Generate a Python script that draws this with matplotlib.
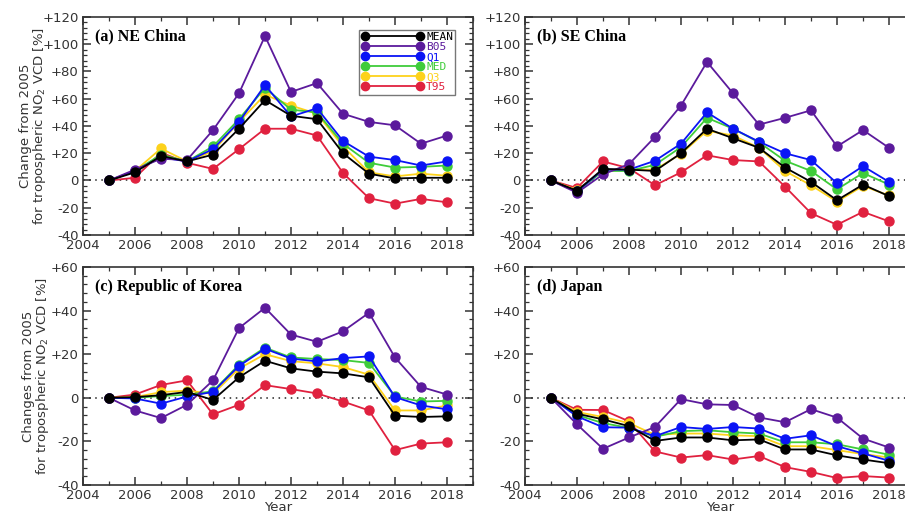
import matplotlib
matplotlib.use('Agg')
import matplotlib.pyplot as plt
from matplotlib.ticker import MultipleLocator, AutoMinorLocator, FuncFormatter

years = list(range(2005, 2019))
series_names = ['MEAN', 'B05', 'Q1', 'MED', 'Q3', 'T95']
series_colors = ['#000000', '#5b1a9c', '#0a14f5', '#3fcc3a', '#fdd21b', '#e0213f']

# (a) NE China
ne_mean = [0, 6, 18, 14, 19, 38, 59, 47.5, 45, 20, 5, 1.5, 2, 2]
ne_b05 = [0, 8, 16, 15, 37, 64, 106, 65, 71.5, 49, 43, 40.5, 27, 33]
ne_q1 = [0, 7, 17, 14, 23, 43, 70, 47, 53, 29, 17.5, 15, 11, 14]
ne_med = [0, 7, 19, 14, 25, 45, 68, 52, 50, 27, 13, 9.5, 10, 11]
ne_q3 = [0, 7, 23.5, 14, 21.5, 43, 63, 55, 49, 25, 6, 3, 5, 3.5]
ne_t95 = [0, 2, 20.5, 13, 8.5, 23, 38, 38, 33, 5.5, -13, -17, -13.5, -16]

# (b) SE China
se_mean = [0, -7.5, 8.5, 8, 7, 20, 38, 31, 24, 9.5, -1, -14.5, -3, -11.5]
se_b05 = [0, -9, 4.5, 12, 32, 55, 87, 64, 41, 46, 51.5, 25, 37, 24]
se_q1 = [0, -8, 8, 8, 14.5, 27, 50, 38, 28.5, 20, 15, -2, 10.5, -1]
se_med = [0, -8, 7, 7, 11.5, 24.5, 46, 38, 28, 14.5, 7, -6.5, 5.5, -3]
se_q3 = [0, -7, 7, 8, 8, 19.5, 36.5, 33, 24, 7, -3.5, -15.5, -4, -11]
se_t95 = [0, -5.5, 14, 9, -3.5, 6, 18.5, 15, 14, -4.5, -24, -32.5, -23, -30]

# (c) Republic of Korea
kr_mean = [0, 0.3, 1.2, 2.7, -1, 9.4, 17, 13.5, 12, 11.2, 9.4, -8.2, -8.8, -8.5]
kr_b05 = [0, -5.8, -9.3, -3.2, 8, 32, 41.3, 29, 25.7, 30.5, 39, 18.5, 5, 1.5]
kr_q1 = [0, -0.3, -2.7, 0.6, 2.7, 14.6, 22.5, 18, 16.7, 18.2, 19, 0.3, -3.5, -5.3]
kr_med = [0, 0, 0.8, 1.4, 3, 15.2, 23, 18.5, 17.8, 17.3, 16, 0.6, -1.7, -1.4]
kr_q3 = [0, 0.3, 2.6, 3.3, 1.8, 13.4, 20, 16.8, 15.8, 14.1, 10.6, -5.8, -5.8, -3.5]
kr_t95 = [0, 1.5, 5.9, 8, -7.6, -3.2, 5.8, 4, 2, -1.7, -5.8, -24, -21, -20.4]

# (d) Japan
jp_mean = [0, -7.3, -9.9, -13, -19.8, -18.2, -18.2, -19.5, -19.1, -23.7, -23.7, -26.4, -28.3, -30]
jp_b05 = [0, -12.2, -23.4, -18.2, -13.4, -0.6, -3, -3.3, -9, -11.2, -5.2, -9.1, -18.7, -22.8]
jp_q1 = [0, -8.5, -13.5, -13.7, -17.6, -13.4, -14.3, -13.4, -14.1, -18.8, -17.2, -22.2, -25.5, -28.9]
jp_med = [0, -7.9, -11.6, -13.8, -17.9, -15.3, -14.9, -15.8, -16.4, -20.4, -20.4, -21.3, -23.7, -26.1]
jp_q3 = [0, -6.5, -8.8, -11.6, -17, -16.4, -16.4, -17.2, -17.6, -22.2, -22.2, -24, -25.8, -27.4]
jp_t95 = [0, -5.5, -5.6, -10.8, -24.6, -27.4, -26.3, -28.3, -26.7, -31.8, -34, -36.8, -35.9, -36.6]

panels = [
    ('(a) NE China', [ne_mean, ne_b05, ne_q1, ne_med, ne_q3, ne_t95], (-40, 120)),
    ('(b) SE China', [se_mean, se_b05, se_q1, se_med, se_q3, se_t95], (-40, 120)),
    ('(c) Republic of Korea', [kr_mean, kr_b05, kr_q1, kr_med, kr_q3, kr_t95], (-40, 60)),
    ('(d) Japan', [jp_mean, jp_b05, jp_q1, jp_med, jp_q3, jp_t95], (-40, 60)),
]

fig = plt.figure(figsize=(9.05, 5.13), dpi=100)
w, h = 390 / 905, 218 / 513
boxes = [
    (83 / 905, 1 - 235 / 513),
    (525 / 905, 1 - 235 / 513),
    (83 / 905, 1 - 485 / 513),
    (525 / 905, 1 - 485 / 513),
]

def signed(v, pos):
    if v > 0:
        return '+%d' % v
    return '%d' % v

tick_color = '#333333'
for i, (title, data, ylim) in enumerate(panels):
    ax = fig.add_axes([boxes[i][0], boxes[i][1], w, h])
    ax.axhline(0, color='#222222', linestyle=(0, (1, 3)), linewidth=1.1, zorder=1)
    lines = []
    for k in range(len(series_names) - 1, -1, -1):
        ln, = ax.plot(years, data[k], '-o', color=series_colors[k], lw=1.3,
                      markersize=6.5, label=series_names[k], zorder=3 + len(series_names) - k)
        lines.append(ln)
    ax.set_xlim(2004, 2019)
    ax.set_ylim(*ylim)
    ax.xaxis.set_major_locator(MultipleLocator(2))
    ax.xaxis.set_minor_locator(MultipleLocator(1))
    ax.yaxis.set_major_locator(MultipleLocator(20))
    ax.yaxis.set_minor_locator(AutoMinorLocator(5))
    ax.yaxis.set_major_formatter(FuncFormatter(signed))
    ax.tick_params(which='both', direction='in', top=True, right=True,
                   labelsize=9.5, labelcolor=tick_color, color='#333333', pad=3)
    ax.tick_params(which='major', length=6, width=1.1)
    ax.tick_params(which='minor', length=3, width=0.9)
    for s in ax.spines.values():
        s.set_linewidth(1.2)
        s.set_color('#333333')
    ax.text(0.03, 0.91, title, transform=ax.transAxes, fontsize=11.5,
            fontweight='bold', family='Liberation Serif', va='center', ha='left')
    if i == 0:
        leg = ax.legend(lines[::-1], series_names, loc='upper right',
                        bbox_to_anchor=(0.955, 0.94), numpoints=2, handlelength=5.6,
                        handletextpad=0.25, labelspacing=0.0, borderpad=0.2,
                        borderaxespad=0, fancybox=False, framealpha=1,
                        edgecolor='#777777',
                        prop={'family': 'DejaVu Sans Mono', 'size': 8})
        leg.get_frame().set_linewidth(1.0)
        for txt, c in zip(leg.get_texts(), series_colors):
            txt.set_color(c)
        for lh in leg.get_lines():
            lh.set_markersize(6)
    if i == 0:
        ax.set_ylabel('Change from 2005\nfor tropospheric NO$_2$ VCD [%]',
                      fontsize=9.5, color=tick_color, labelpad=-4, linespacing=0.95)
    if i == 2:
        ax.set_ylabel('Changes from 2005\nfor tropospheric NO$_2$ VCD [%]',
                      fontsize=9.5, color=tick_color, labelpad=0, linespacing=0.95)
    if i >= 2:
        ax.set_xlabel('Year', fontsize=9.5, color=tick_color, labelpad=-1)

fig.savefig('out.png', dpi=100)
